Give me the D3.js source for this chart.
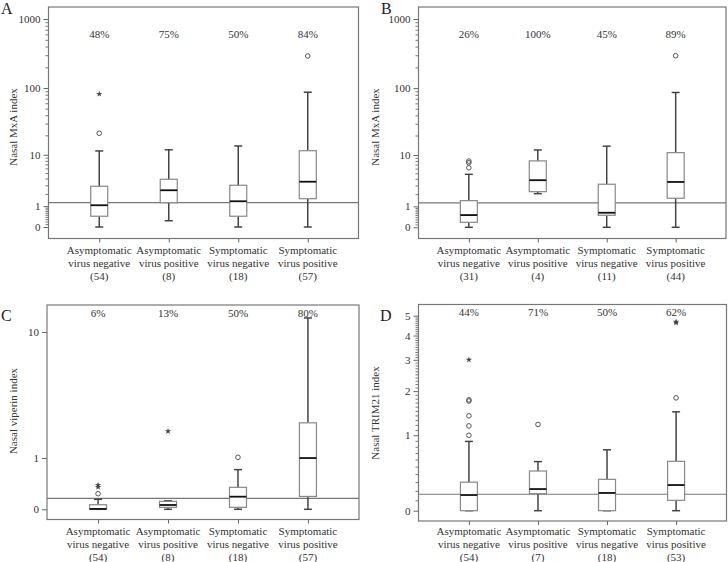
<!DOCTYPE html>
<html><head><meta charset="utf-8">
<script src="https://cdn.jsdelivr.net/npm/d3@7"></script>
<style>
html,body{margin:0;padding:0;background:#fff;}
svg, svg text, svg tspan{font-family:"Liberation Serif",serif !important;}
</style></head>
<body><svg id="c" width="728" height="562" font-family="Liberation Serif, serif"></svg>
<script>
// ---- data ----
const catLine1 = ["Asymptomatic","Asymptomatic","Symptomatic","Symptomatic"];
const catLine2 = ["virus negative","virus positive","virus negative","virus positive"];

const nA = [54, 8, 18, 57];
const nB = [31, 4, 11, 44];
const nC = [54, 8, 18, 57];
const nD = [54, 7, 18, 53];

const pctA = ["48%","75%","50%","84%"];
const pctB = ["26%","100%","45%","89%"];
const pctC = ["6%","13%","50%","80%"];
const pctD = ["44%","71%","50%","62%"];

// [whisker low, Q1, median, Q3, whisker high]
const boxA = [[0,0.43,1.06,2.87,11.5],[0.23,1.24,2.39,3.88,12.0],[0,0.43,1.35,3.0,13.75],[0,1.56,3.5,11.6,87]];
const circA = [[21.5],[],[],[292]];
const starA = [[82],[],[],[]];
const refA = 1.25;

const boxB = [[0,0.18,0.5,1.42,4.8],[2.05,2.26,3.77,8.05,12.0],[0,0.49,0.62,3.17,13.75],[0,1.62,3.5,10.9,86.5]];
const circB = [[8.0,7.5,6.2],[],[],[295]];
const starB = [[],[],[],[]];
const refB = 1.25;

const boxC = [[0,0,0.005,0.064,0.145],[0,0.027,0.06,0.114,0.123],[0,0.027,0.186,0.346,0.71],[0,0.19,1.0,2.22,12.3]];
const circC = [[0.235],[],[1.02],[]];
const starC = [[0.35,0.39],[1.87],[],[]];
const refC = 0.16;

const boxD = [[0,0,0.155,0.30,0.89],[0,0.169,0.22,0.44,0.57],[0,0,0.177,0.334,0.75],[0,0.10,0.266,0.574,1.48]];
const circD = [[1.0,1.18,1.39,1.74,1.77],[1.21],[],[1.82]];
const starD = [[3.0],[],[],[4.62,4.68]];
const refD = 0.163;

const ticksAB = [0,1,10,100,1000];
const ticksC = [0,1,10];
const ticksD = [0,1,2,3,4,5];
const titleA = "Nasal MxA index", titleB = "Nasal MxA index", titleC = "Nasal viperin index", titleD = "Nasal TRIM21 index";

// ---- drawing ----
const FONT = "Liberation Serif, serif";
const svg = d3.select("#c");

function minorLog(){ const m=[]; [0.1,1,10,100].forEach(d=>{ for(let k=(d<1?1:2);k<=9;k++){ if(d<1) m.push(+(k*0.1).toFixed(1)); else m.push(k*d);} }); return m; }
function minorLin(){ const m=[]; for(let i=1;i<50;i++){ if(i%10) m.push(i/10);} return m; }

function panel(cfg){
  const g = svg.append("g");
  const x = d3.scalePoint().domain(d3.range(4)).range([cfg.left, cfg.right]).padding(0.73);
  const y = d3.scaleSymlog().constant(1).domain([0, cfg.topVal]).range([cfg.zeroY, cfg.topValY]);

  g.append("rect").attr("x",cfg.left).attr("y",cfg.top).attr("width",cfg.right-cfg.left).attr("height",cfg.bottom-cfg.top)
    .attr("fill","none").attr("stroke","#777").attr("stroke-width",1.2);

  if(cfg.minor){
    const am = g.append("g").attr("transform",`translate(${cfg.left},0)`)
      .call(d3.axisLeft(y).tickValues(cfg.minor).tickSize(3).tickFormat(""));
    am.select(".domain").remove();
    am.selectAll("line").attr("stroke","#777");
  }
  const ay = g.append("g").attr("transform",`translate(${cfg.left},0)`)
    .call(d3.axisLeft(y).tickValues(cfg.ticks).tickSize(5).tickPadding(3).tickFormat(d3.format("d")));
  ay.attr("font-family",FONT);
  ay.select(".domain").remove();
  ay.selectAll("line").attr("stroke","#666");
  ay.selectAll("text").attr("font-size",11).attr("font-family",FONT).attr("fill","#333");

  const ax = g.append("g").attr("transform",`translate(0,${cfg.bottom})`)
    .call(d3.axisBottom(x).tickSize(4).tickFormat(""));
  ax.select(".domain").remove();
  ax.selectAll("line").attr("stroke","#666");
  const lab = g.append("g").selectAll("text").data(d3.range(4)).join("text")
    .attr("x",d=>x(d)).attr("y",cfg.labelY).attr("text-anchor","middle").attr("font-size",11)
    .attr("font-family",FONT).attr("fill","#333");
  lab.append("tspan").attr("x",d=>x(d)).attr("dy",0).text(d=>catLine1[d]);
  lab.append("tspan").attr("x",d=>x(d)).attr("dy",13).text(d=>catLine2[d]);
  lab.append("tspan").attr("x",d=>x(d)).attr("dy",12.5).text(d=>"("+cfg.n[d]+")");

  g.append("line").attr("x1",cfg.left).attr("x2",cfg.right).attr("y1",y(cfg.ref)).attr("y2",y(cfg.ref))
    .attr("stroke","#777").attr("stroke-width",1.1);

  const bw = 17, cw = 8;
  const b = g.append("g").selectAll("g").data(cfg.box).join("g");
  b.append("line").attr("x1",(d,i)=>x(i)).attr("x2",(d,i)=>x(i)).attr("y1",d=>y(d[3])).attr("y2",d=>y(d[4])).attr("stroke","#444").attr("stroke-width",1.5);
  b.append("line").attr("x1",(d,i)=>x(i)).attr("x2",(d,i)=>x(i)).attr("y1",d=>y(d[0])).attr("y2",d=>y(d[1])).attr("stroke","#444").attr("stroke-width",1.5);
  b.append("line").attr("x1",(d,i)=>x(i)-cw/2).attr("x2",(d,i)=>x(i)+cw/2).attr("y1",d=>y(d[4])).attr("y2",d=>y(d[4])).attr("stroke","#444").attr("stroke-width",1.5);
  b.append("line").attr("x1",(d,i)=>x(i)-cw/2).attr("x2",(d,i)=>x(i)+cw/2).attr("y1",d=>y(d[0])).attr("y2",d=>y(d[0])).attr("stroke","#444").attr("stroke-width",1.5);
  b.append("rect").attr("x",(d,i)=>x(i)-bw/2).attr("width",bw).attr("y",d=>y(d[3])).attr("height",d=>Math.max(1,y(d[1])-y(d[3])))
    .attr("fill","#fff").attr("stroke","#888").attr("stroke-width",1.2);
  b.append("line").attr("x1",(d,i)=>x(i)-bw/2).attr("x2",(d,i)=>x(i)+bw/2).attr("y1",d=>y(d[2])).attr("y2",d=>y(d[2])).attr("stroke","#111").attr("stroke-width",1.8);

  cfg.circ.forEach((arr,i)=>{
    g.selectAll(null).data(arr).join("circle").attr("cx",x(i)).attr("cy",d=>y(d)).attr("r",2.3)
      .attr("fill","none").attr("stroke","#555").attr("stroke-width",1);
  });
  cfg.star.forEach((arr,i)=>{
    g.selectAll(null).data(arr).join("path").attr("d",d3.symbol(d3.symbolStar,12))
      .attr("transform",d=>`translate(${x(i)},${y(d)})`).attr("fill","#444");
  });

  g.append("g").selectAll("text").data(cfg.pct).join("text").attr("x",(d,i)=>x(i)).attr("y",cfg.pctY)
    .attr("text-anchor","middle").attr("font-size",11).attr("font-family",FONT).attr("fill","#333").text(d=>d);

  g.append("text").attr("transform",`translate(${cfg.titleX},${cfg.titleY}) rotate(-90)`).attr("text-anchor","middle")
    .attr("font-size",11).attr("font-family",FONT).attr("fill","#333").text(cfg.title);
  g.append("text").attr("x",cfg.letterX).attr("y",cfg.letterY).attr("font-size",16).attr("font-family",FONT).attr("fill","#222").text(cfg.letter);
}

panel({left:48.5,right:358.5,top:7,bottom:238.5,zeroY:227,topVal:1000,topValY:19,ticks:ticksAB,minor:minorLog(),labelY:254,
  box:boxA,circ:circA,star:starA,ref:refA,pct:pctA,n:nA,pctY:38,title:titleA,titleX:17,titleY:127,letter:"A",letterX:1,letterY:14});
panel({left:418.5,right:726,top:7,bottom:238.5,zeroY:227.3,topVal:1000,topValY:19,ticks:ticksAB,minor:minorLog(),labelY:254,
  box:boxB,circ:circB,star:starB,ref:refB,pct:pctB,n:nB,pctY:38,title:titleB,titleX:379,titleY:127,letter:"B",letterX:381,letterY:14});
panel({left:47,right:359,top:305,bottom:519.5,zeroY:509.3,topVal:10,topValY:332,ticks:ticksC,minor:null,labelY:535,
  box:boxC,circ:circC,star:starC,ref:refC,pct:pctC,n:nC,pctY:316.5,title:titleC,titleX:17,titleY:411,letter:"C",letterX:1,letterY:321});
panel({left:418.5,right:726.5,top:304.5,bottom:521,zeroY:510.7,topVal:5,topValY:315.7,ticks:ticksD,minor:minorLin(),labelY:535,
  box:boxD,circ:circD,star:starD,ref:refD,pct:pctD,n:nD,pctY:316,title:titleD,titleX:379,titleY:413,letter:"D",letterX:380,letterY:321});
</script></body></html>
